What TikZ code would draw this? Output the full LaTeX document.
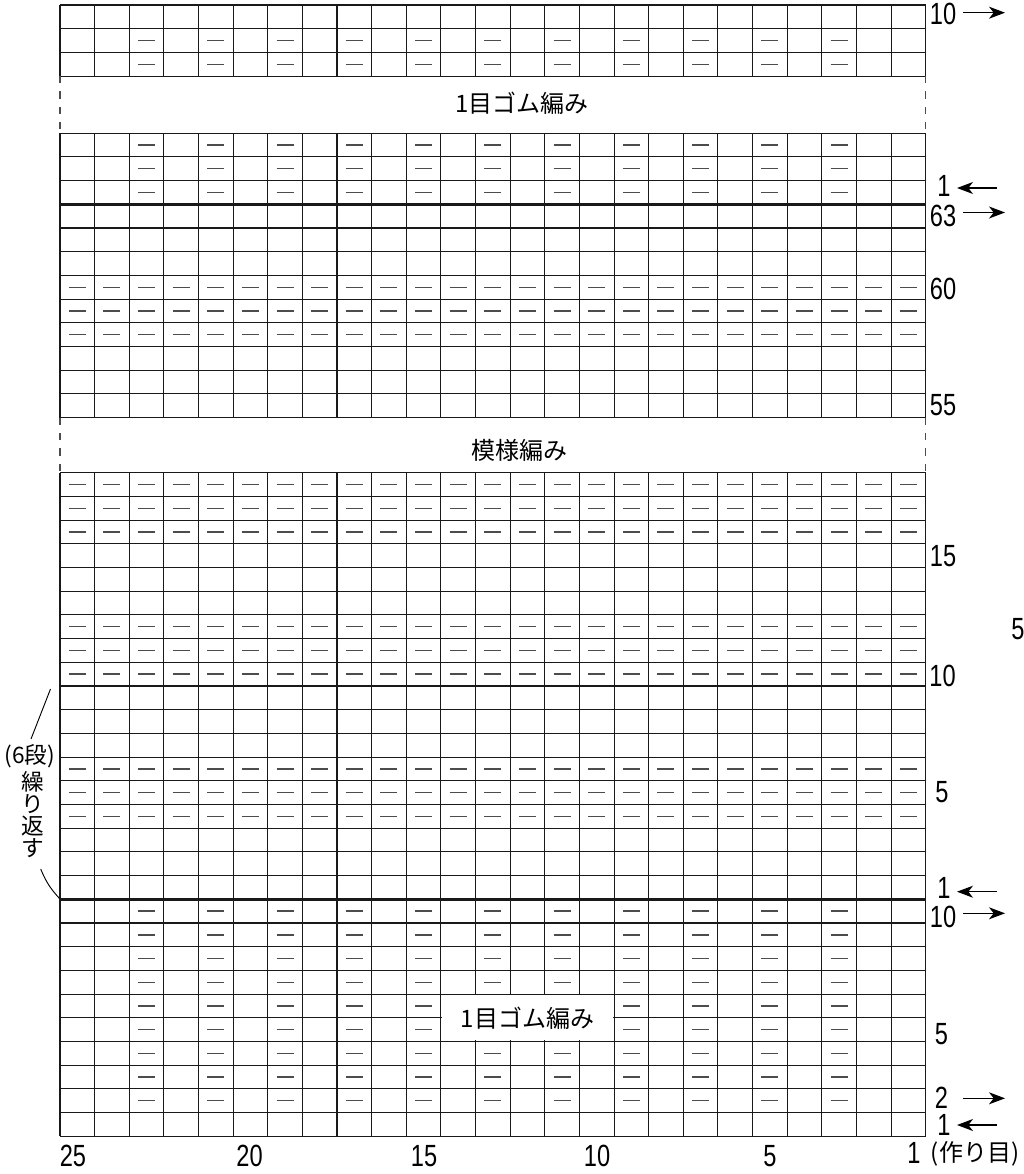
\documentclass[tikz,border=0pt]{standalone}
\usepackage{fontspec}
\newfontfamily\jpfont{Noto Sans CJK JP}
\newfontfamily\numfont[FakeStretch=0.77]{Liberation Sans}
\usetikzlibrary{arrows.meta, positioning}

\begin{document}
\begin{tikzpicture}[
    x=0.75pt, y=-0.75pt,
    gridline/.style={line width=0.8pt, black!90},
    boldline/.style={line width=2pt, black!90},
    purl/.style={line width=1.1pt, black!70},
    gapline/.style={line width=0.8pt, black!70, dash pattern=on 5.5pt off 6pt},
    rowno/.style={font=\numfont\fontsize{23}{23}\selectfont, inner sep=0pt},
    title/.style={font=\jpfont\fontsize{18}{20}\selectfont, inner sep=0pt},
    sidenote/.style={font=\jpfont\fontsize{17}{16.5}\selectfont, inner sep=0pt, align=center},
    ribbox/.style={title, fill=white, minimum width=128.5pt, minimum height=34pt},
    rowarrow/.style={line width=0.9pt, -{Stealth[length=12pt, width=9pt, inset=3.5pt]}},
    bracket/.style={line width=0.7pt}
]
\useasboundingbox (0,0) rectangle (1024,1174);

% Grid blocks (top rib / rib + pattern top / pattern + bottom rib)
\foreach \top/\n in {5/3, 133.2/12, 472.7/28} {
  \foreach \r in {0,...,\n}
    \draw[gridline] (60,{\top+\r*23.7}) -- (925.7,{\top+\r*23.7});
  \foreach \c in {0,...,25}
    \draw[gridline] ({60+\c*34.628},\top) -- ({60+\c*34.628},{\top+\n*23.7});
}

% Rib purl stitches
\foreach \top/\rows in {5/{1,2}, 133.2/{0,1,2}, 899.3/{0,...,8}}
  \foreach \r in \rows
    \foreach \i in {2,4,...,22}
      \draw[purl] ({60+(\i+0.5)*34.628-8.5},{\top+(\r+0.5)*23.7}) -- ++(17,0);

% Pattern purl rows
\foreach \top/\rows in {133.2/{6,7,8}, 472.7/{0,1,2,6,7,8,12,13,14}}
  \foreach \r in \rows
    \foreach \i in {0,...,24}
      \draw[purl] ({60+(\i+0.5)*34.628-8.5},{\top+(\r+0.5)*23.7}) -- ++(17,0);

% Section borders
\draw[boldline] (60,204.3) -- (925.7,204.3);
\draw[boldline] (60,899.3) -- (925.7,899.3);
\foreach \x in {60,925.7} {
  \draw[gapline] (\x,76.1) -- (\x,133.2);
  \draw[gapline] (\x,417.6) -- (\x,472.7);
}

% Section titles
\node[title] (ribTop) at (522,103) {1目ゴム編み};
\node[title] (pattern) at (519.7,450) {模様編み};
\node[ribbox] (ribBot) at (527.5,1017.8) {1目ゴム編み};

% Row numbers
\node[rowno] (t10) at (943,14) {10};
\node[rowno] (t1) at (944,185.5) {1};
\node[rowno] (p63) at (943,216) {63};
\node[rowno] (p60) at (943,288.5) {60};
\node[rowno] (p55) at (943,405.5) {55};
\node[rowno] (p15) at (943,556) {15};
\node[rowno] (p10) at (942.5,676) {10};
\node[rowno] (p5) at (942,792) {5};
\node[rowno] (p1) at (944,887.5) {1};
\node[rowno] (extra5) at (1018,629) {5};
\node[rowno] (b10) at (943,917) {10};
\node[rowno] (b5) at (941.5,1034) {5};
\node[rowno] (b2) at (941.5,1098) {2};
\node[rowno] (b1) at (944,1125) {1};

% Knitting direction
\coordinate (t10s) at (963,12.7);    \coordinate (t10e) at (1005,12.7);
\coordinate (t1s) at (997,188);      \coordinate (t1e) at (957,188);
\coordinate (p63s) at (963,212.5);   \coordinate (p63e) at (1005,212.5);
\coordinate (p1s) at (997,891.7);    \coordinate (p1e) at (957,891.7);
\coordinate (b10s) at (963,913.3);   \coordinate (b10e) at (1005,913.3);
\coordinate (b2s) at (963,1098.3);   \coordinate (b2e) at (1005,1098.3);
\coordinate (b1s) at (997,1125);     \coordinate (b1e) at (957,1125);
\foreach \a in {t10, t1, p63, p1, b10, b2, b1}
  \draw[rowarrow] (\a s) -- (\a e);

% Stitch numbers
\node[rowno] (c25) at (73,1156) {25};
\node[rowno] (c20) at (249.5,1156) {20};
\node[rowno] (c15) at (424,1156) {15};
\node[rowno] (c10) at (597,1156) {10};
\node[rowno] (c5) at (770,1156) {5};
\node[rowno] (c1) at (914,1153) {1};
\node[sidenote, font=\jpfont\fontsize{18}{18}\selectfont] (castOn) at (975,1154) {(作り目)};

% Repeat note
\node[sidenote] (repeatA) at (30,756.5) {(6段)};
\node[sidenote] (repeatB) at (33,815) {繰\\り\\返\\す};
\coordinate (brTopA) at (50.5,689);  \coordinate (brTopB) at (31,739);
\coordinate (brBotA) at (40.7,869);  \coordinate (brBotB) at (59.5,898.5);
\draw[bracket] (brTopA) -- (brTopB);
\draw[bracket] (brBotA) to[bend right=10] (brBotB);

\end{tikzpicture}
\end{document}
